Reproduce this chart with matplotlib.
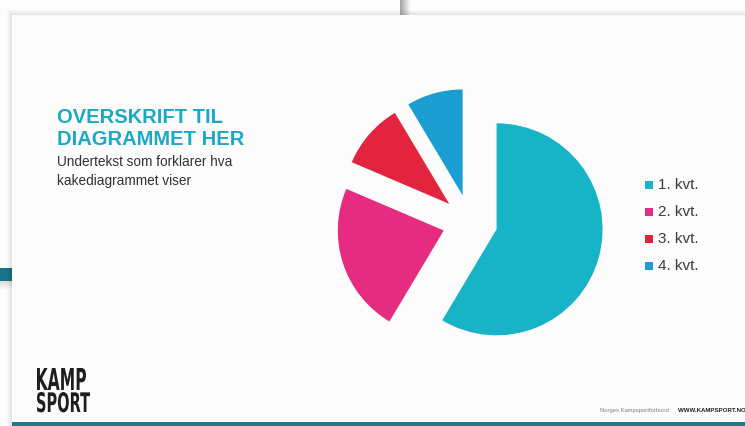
import matplotlib
matplotlib.use('Agg')
import matplotlib.pyplot as plt
import matplotlib.transforms as mtransforms
from matplotlib.patches import Rectangle, PathPatch
from matplotlib.textpath import TextPath
from matplotlib.font_manager import FontProperties

W, H = 745, 426

# data (PowerPoint sample pie)
labels = ['1. kvt.', '2. kvt.', '3. kvt.', '4. kvt.']
sales = [8.2, 3.2, 1.4, 1.2]
colors = ['#17b4c8', '#e62c80', '#e2243f', '#1b9fd2']

title_lines = ['OVERSKRIFT TIL', 'DIAGRAMMET HER']
sub_lines = ['Undertekst som forklarer hva', 'kakediagrammet viser']

plt.rcParams['font.family'] = ['Liberation Sans', 'DejaVu Sans']

fig = plt.figure(figsize=(W / 100, H / 100), dpi=100)
fig.patch.set_facecolor('white')


def fx(x):
    return x / W


def fy(y):
    return 1 - y / H


def rect(x0, y0, x1, y1, color, z=0, alpha=1.0):
    fig.add_artist(Rectangle((fx(x0), fy(y1)), (x1 - x0) / W, (y1 - y0) / H,
                             transform=fig.transFigure, facecolor=color,
                             edgecolor='none', zorder=z, alpha=alpha))


# photo background: slide behind + shadows
rect(0, 0, W, H, '#fdfdfd', z=0)
rect(0, 268, 12, 281, '#1b7486', z=1)
for i in range(8):
    rect(0, 281 + i, 12, 282 + i, '#000000', z=1, alpha=0.12 - 0.014 * i)
for i in range(10):
    rect(400 + i, 0, 401 + i, 15, '#000000', z=1, alpha=0.35 - 0.035 * i)
# shadow of the front slide
for i in range(6):
    rect(12 - i, 15 - i, W, H, '#000000', z=1, alpha=0.018)
rect(12, 15, W, H, '#fcfcfc', z=2)
rect(12, 422, W, H, '#1f7c86', z=3)

# pie
cx, cy, r = 470, 222, 106
L = 1.45
S = 2 * L * r
ax = fig.add_axes([fx(cx - S / 2), fy(cy + S / 2), S / W, S / H])
ax.pie(sales, colors=colors, startangle=90, counterclock=False,
       explode=[0.26] * len(sales), radius=1,
       wedgeprops=dict(linewidth=0))
ax.set_xlim(-L, L)
ax.set_ylim(-L, L)
ax.set_aspect('equal')
ax.axis('off')
ax.set_zorder(5)

# legend
for i, (lab, col) in enumerate(zip(labels, colors)):
    yy = 185 + 27 * i
    rect(645, yy - 4, 653, yy + 4, col, z=6)
    fig.text(fx(658), fy(yy), lab, fontsize=11, color='#3c3c3c',
             va='center', ha='left', zorder=6)

# title + subtitle
for i, t in enumerate(title_lines):
    fig.text(fx(57), fy(123 + 22 * i), t, fontsize=14.5, fontweight='bold',
             color='#1ba9c4', va='baseline', ha='left', zorder=6)
for i, t in enumerate(sub_lines):
    fig.text(fx(57), fy(166 + 19 * i), t, fontsize=9.8, color='#333333',
             va='baseline', ha='left', zorder=6)

# logo (condensed bold)
fp = FontProperties(family='DejaVu Sans', weight='bold')
for word, x0, x1, base, top in [('KAMP', 37, 86, 390, 368), ('SPORT', 37, 90, 412, 392)]:
    tp = TextPath((0, 0), word, size=1, prop=fp)
    bb = tp.get_extents()
    sx = (x1 - x0) / bb.width
    sy = (base - top) / bb.y1
    tr = (mtransforms.Affine2D().translate(-bb.x0, 0).scale(sx / W, sy / H)
          .translate(fx(x0), fy(base)) + fig.transFigure)
    fig.add_artist(PathPatch(tp, transform=tr, facecolor='#1e1e1e',
                             edgecolor='none', zorder=6))

# footer
fig.text(fx(600), fy(412), 'Norges Kampsportforbund', fontsize=4.2,
         color='#808080', va='baseline', ha='left', zorder=6)
fig.text(fx(678), fy(412), 'WWW.KAMPSPORT.NO', fontsize=4.4,
         fontweight='bold', color='#222222', va='baseline', ha='left', zorder=6)

fig.savefig('out.png', dpi=100, facecolor=fig.get_facecolor())
